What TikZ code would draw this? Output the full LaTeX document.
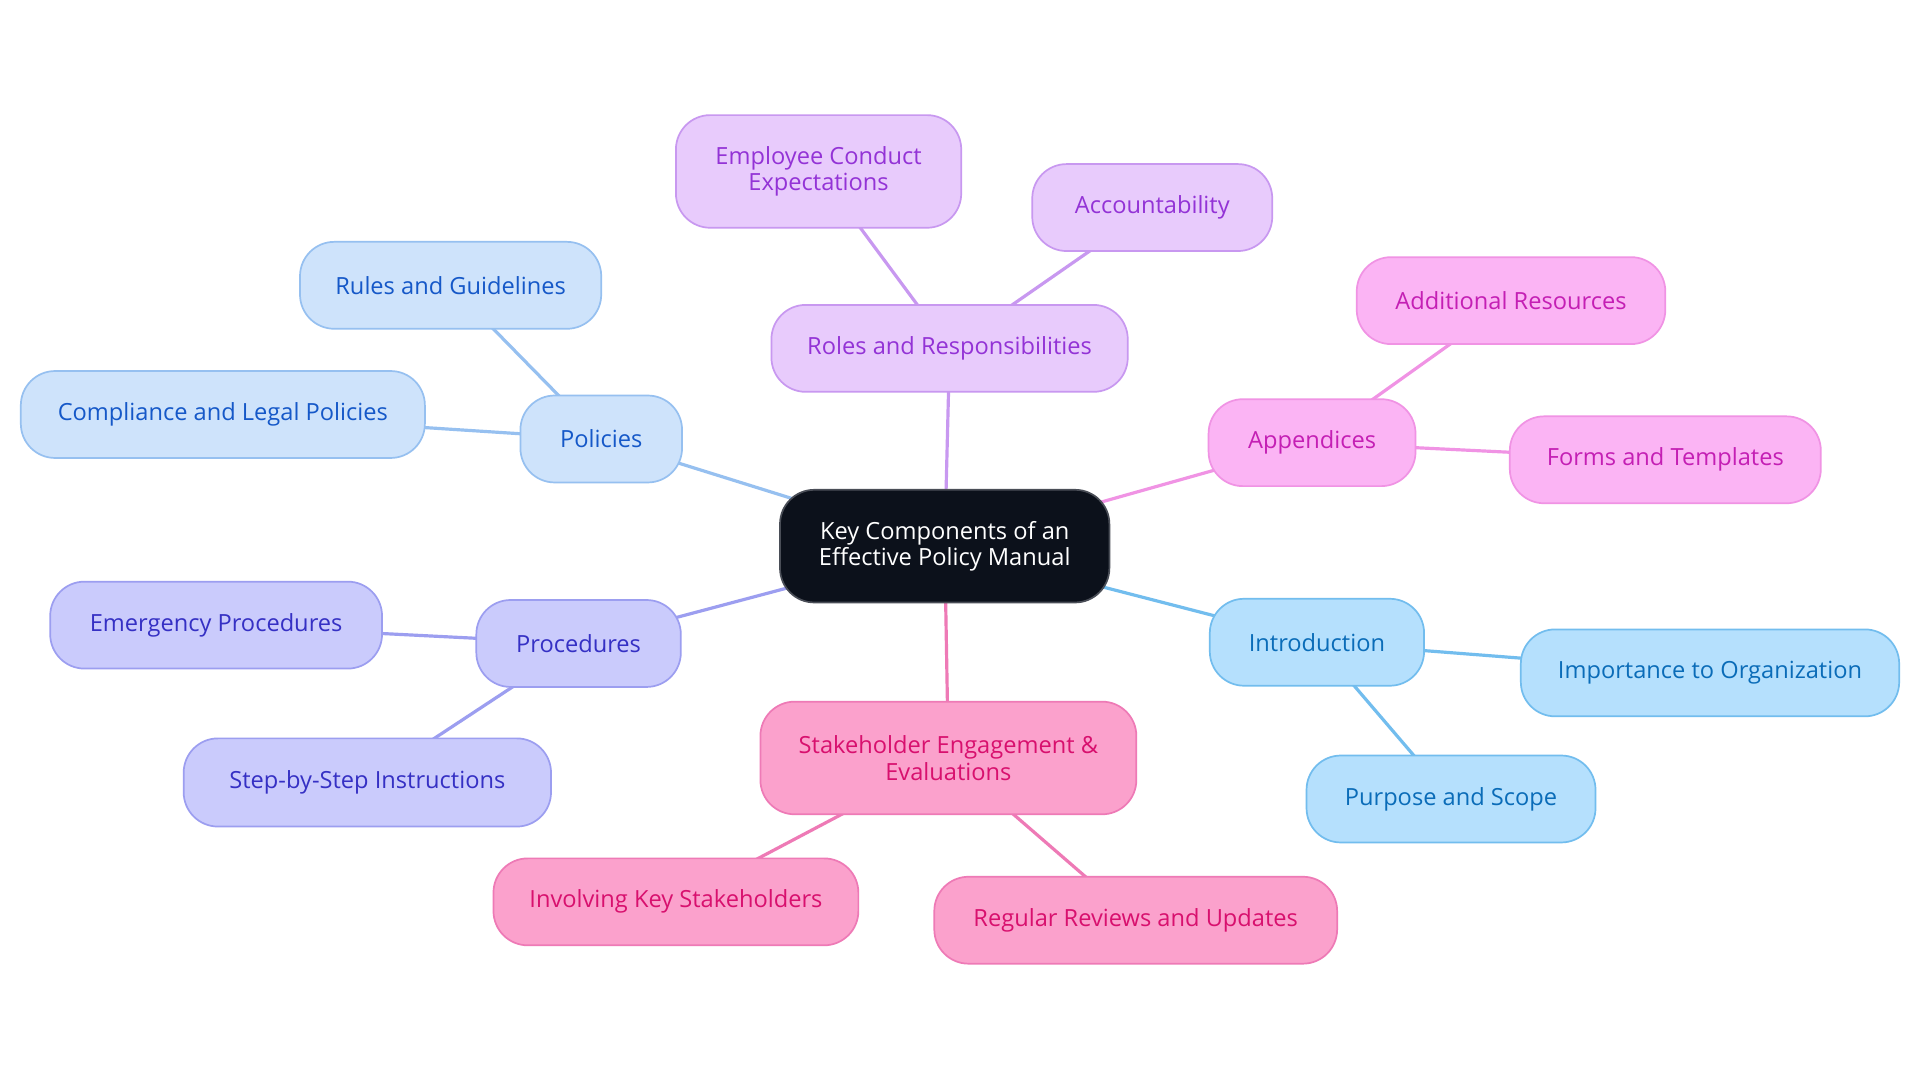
\documentclass[tikz,border=0pt]{standalone}
\usepackage{fontspec}
\setmainfont{Open Sans}
\usetikzlibrary{backgrounds}
\definecolor{bluF}{HTML}{CEE3FB}\definecolor{bluD}{HTML}{96C0F0}\definecolor{bluT}{HTML}{1558C8}
\definecolor{purF}{HTML}{E8CBFC}\definecolor{purD}{HTML}{C898F0}\definecolor{purT}{HTML}{9333D6}
\definecolor{magF}{HTML}{FBB4F4}\definecolor{magD}{HTML}{F093E4}\definecolor{magT}{HTML}{C41FB4}
\definecolor{indF}{HTML}{CACBFC}\definecolor{indD}{HTML}{9C9EF0}\definecolor{indT}{HTML}{3530C4}
\definecolor{skyF}{HTML}{B5E0FD}\definecolor{skyD}{HTML}{72BDEE}\definecolor{skyT}{HTML}{0A6CB8}
\definecolor{rosF}{HTML}{FBA1CC}\definecolor{rosD}{HTML}{EE7AB6}\definecolor{rosT}{HTML}{D8106E}
\definecolor{ctrF}{HTML}{0C111B}\definecolor{ctrD}{HTML}{4A4E57}
\begin{document}
\begin{tikzpicture}[x=1pt,y=-1pt,
  box/.style={rounded corners=28pt, draw, line width=1.4pt, inner sep=0pt, align=center,
    font=\fontsize{19.3}{21.5}\selectfont, minimum height=71pt},
  blu/.style={box, fill=bluF, draw=bluD, text=bluT},
  pur/.style={box, fill=purF, draw=purD, text=purT},
  mag/.style={box, fill=magF, draw=magD, text=magT},
  ind/.style={box, fill=indF, draw=indD, text=indT},
  sky/.style={box, fill=skyF, draw=skyD, text=skyT},
  ros/.style={box, fill=rosF, draw=rosD, text=rosT},
  ctr/.style={box, fill=ctrF, draw=ctrD, text=white},
  link/.style={line width=2.6pt}]
\useasboundingbox (0,0) rectangle (1568,884.5);
% center
\node[ctr, minimum width=269pt, minimum height=92pt] (c) at (771.5,446) {Key Components of an\\Effective Policy Manual};
% policies
\node[blu, minimum width=132pt] (pol) at (491,358.5) {Policies};
\node[blu, minimum width=246pt] (rul) at (368,233) {Rules and Guidelines};
\node[blu, minimum width=330pt] (com) at (182,338.5) {Compliance and Legal Policies};
% roles
\node[pur, minimum width=291pt] (rol) at (775.5,284.5) {Roles and Responsibilities};
\node[pur, minimum width=233pt, minimum height=92pt] (emp) at (668.5,140) {Employee Conduct\\Expectations};
\node[pur, minimum width=196pt] (acc) at (941,169.5) {Accountability};
% appendices
\node[mag, minimum width=169pt] (app) at (1071.5,361.5) {Appendices};
\node[mag, minimum width=252pt] (add) at (1234,245.5) {Additional Resources};
\node[mag, minimum width=254pt] (frm) at (1360,375.5) {Forms and Templates};
% introduction
\node[sky, minimum width=175pt] (int) at (1075.5,524.5) {Introduction};
\node[sky, minimum width=309pt] (imp) at (1396.5,549.5) {Importance to Organization};
\node[sky, minimum width=236pt] (pur) at (1185,652.5) {Purpose and Scope};
% procedures
\node[ind, minimum width=167pt] (pro) at (472.5,525.5) {Procedures};
\node[ind, minimum width=271pt] (eme) at (176.5,510.5) {Emergency Procedures};
\node[ind, minimum width=300pt, minimum height=72pt] (stp) at (300,639) {Step-by-Step Instructions};
% stakeholders
\node[ros, minimum width=307pt, minimum height=92pt] (stk) at (774.5,619) {Stakeholder Engagement \&\\Evaluations};
\node[ros, minimum width=298pt] (inv) at (552,736.5) {Involving Key Stakeholders};
\node[ros, minimum width=329pt] (reg) at (927.5,751.5) {Regular Reviews and Updates};
\begin{scope}[on background layer]
\fill[white] (0,0) rectangle (1568,884.5);
\draw[link, bluD] (c.center) -- (pol.center);
\draw[link, bluD] (pol.center) -- (rul.center);
\draw[link, bluD] (pol.center) -- (com.center);
\draw[link, purD] (c.center) -- (rol.center);
\draw[link, purD] (rol.center) -- (emp.center);
\draw[link, purD] (rol.center) -- (acc.center);
\draw[link, magD] (c.center) -- (app.center);
\draw[link, magD] (app.center) -- (add.center);
\draw[link, magD] (app.center) -- (frm.center);
\draw[link, skyD] (c.center) -- (int.center);
\draw[link, skyD] (int.center) -- (imp.center);
\draw[link, skyD] (int.center) -- (pur.center);
\draw[link, indD] (c.center) -- (pro.center);
\draw[link, indD] (pro.center) -- (eme.center);
\draw[link, indD] (pro.center) -- (stp.center);
\draw[link, rosD] (c.center) -- (stk.center);
\draw[link, rosD] (stk.center) -- (inv.center);
\draw[link, rosD] (stk.center) -- (reg.center);
\end{scope}
\end{tikzpicture}
\end{document}
